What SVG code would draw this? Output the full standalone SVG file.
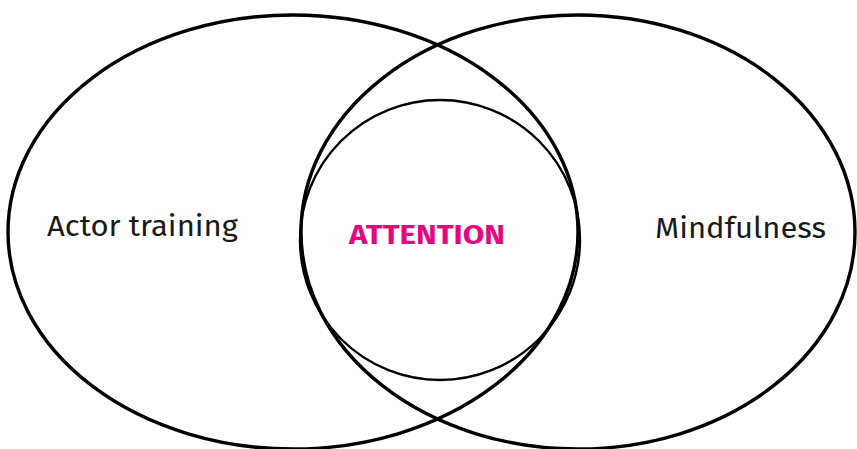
<svg xmlns="http://www.w3.org/2000/svg" width="857" height="449" viewBox="0 0 857 449">
<style>
.outer{fill:none;stroke:#000;stroke-width:3.4}
.inner{fill:none;stroke:#000;stroke-width:2.4}
.lbl{font-family:"Fira Sans","Open Sans","Noto Sans",sans-serif;font-size:30px;fill:#1a1a1a}
.key{font-family:"Fira Sans","Open Sans","Noto Sans",sans-serif;font-size:28px;font-weight:bold;fill:#e2087f}
</style>
<rect width="857" height="449" fill="#fff"/>
<g id="actor-training">
<ellipse class="outer" cx="293" cy="232" rx="285" ry="217"/>
<text class="lbl" x="47" y="236" textLength="191" lengthAdjust="spacingAndGlyphs">Actor training</text>
</g>
<g id="mindfulness">
<ellipse class="outer" cx="578" cy="232" rx="277" ry="217"/>
<text class="lbl" x="655" y="238" textLength="171" lengthAdjust="spacingAndGlyphs">Mindfulness</text>
</g>
<g id="attention">
<circle class="inner" cx="440" cy="240" r="140"/>
<text class="key" x="349" y="244" textLength="156" lengthAdjust="spacingAndGlyphs">ATTENTION</text>
</g>
<g id="connectors"></g>
</svg>
